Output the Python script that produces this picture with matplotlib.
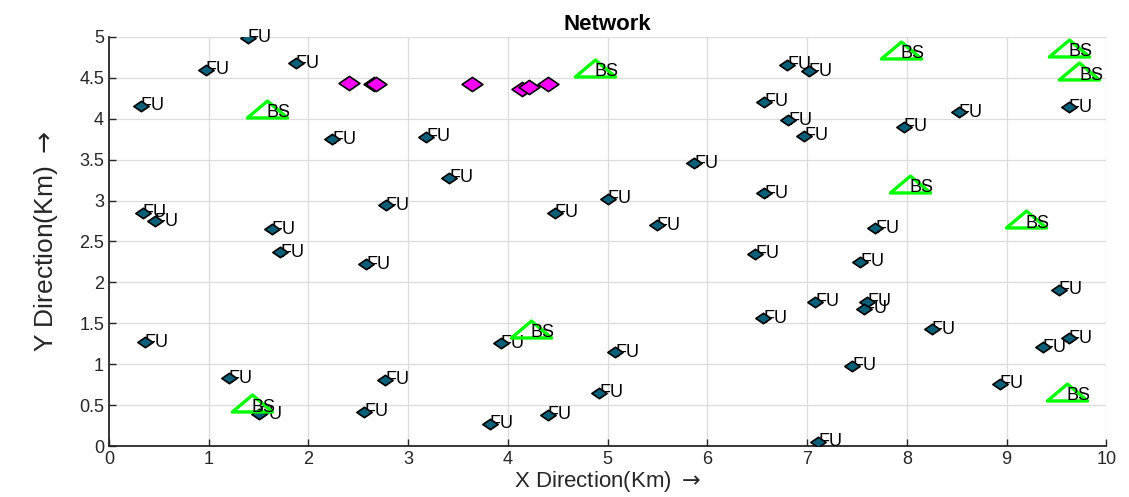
import matplotlib
matplotlib.use("Agg")
import matplotlib.pyplot as plt
from matplotlib.path import Path

# femto users (FU)
fu_x = [1.39, 0.97, 1.875, 0.32, 2.24, 3.18, 3.41, 2.775, 0.34, 0.46,
        1.63, 1.715, 2.58, 0.36, 1.20, 2.77, 1.50, 2.56, 3.93, 5.075,
        4.915, 4.40, 3.82, 6.48, 6.56, 5.87, 5.00, 4.47, 5.49, 6.57,
        6.57, 6.80, 7.015, 6.81, 6.97, 7.97, 8.52, 9.62, 7.68, 7.53,
        9.52, 7.08, 7.60, 7.565, 8.25, 9.62, 9.36, 7.45, 8.93, 7.11]
fu_y = [4.99, 4.60, 4.68, 4.16, 3.75, 3.78, 3.28, 2.94, 2.85, 2.75,
        2.65, 2.37, 2.22, 1.27, 0.83, 0.81, 0.39, 0.42, 1.255, 1.145,
        0.65, 0.38, 0.27, 2.35, 1.56, 3.455, 3.02, 2.85, 2.70, 4.21,
        3.09, 4.66, 4.58, 3.985, 3.79, 3.90, 4.08, 4.14, 2.66, 2.25,
        1.91, 1.765, 1.765, 1.68, 1.43, 1.32, 1.21, 0.98, 0.76, 0.05]

# base stations (BS)
bs_x = [1.58, 4.87, 7.94, 9.62, 9.73, 8.03, 9.19, 4.23, 1.43, 9.60]
bs_y = [4.12, 4.62, 4.84, 4.87, 4.58, 3.20, 2.77, 1.43, 0.52, 0.66]

# magenta users
mu_x = [2.41, 2.66, 2.68, 3.64, 4.14, 4.21, 4.40]
mu_y = [4.44, 4.43, 4.42, 4.43, 4.36, 4.39, 4.43]

xticks = list(range(0, 11))
yticks = [0, 0.5, 1, 1.5, 2, 2.5, 3, 3.5, 4, 4.5, 5]

# squashed marker shapes (original picture is stretched sideways)
wide_diamond = Path([(-1, 0), (0, 0.68), (1, 0), (0, -0.68), (-1, 0)],
                    [Path.MOVETO, Path.LINETO, Path.LINETO, Path.LINETO, Path.CLOSEPOLY])
wide_tri = Path([(-1, -0.42), (0, 0.42), (1, -0.42), (-1, -0.42)],
                [Path.MOVETO, Path.LINETO, Path.LINETO, Path.CLOSEPOLY])

fig = plt.figure(figsize=(11.29, 4.97), dpi=100)
ax = fig.add_axes([0.0965, 0.1026, 0.8835, 0.823])

ax.plot(fu_x, fu_y, linestyle="none", marker=wide_diamond, markersize=11,
        markerfacecolor="#0b5f78", markeredgecolor="black", markeredgewidth=1.2, zorder=4)
for x, y in zip(fu_x, fu_y):
    ax.text(x, y, "FU", fontsize=13, ha="left", va="center", zorder=3,
            family="Liberation Sans")

ax.plot(mu_x, mu_y, linestyle="none", marker=wide_diamond, markersize=15,
        markerfacecolor="magenta", markeredgecolor="black", markeredgewidth=1.2, zorder=4)

ax.plot(bs_x, bs_y, linestyle="none", marker=wide_tri, markersize=29,
        markerfacecolor="none", markeredgecolor="#00ff00", markeredgewidth=2.4, zorder=4)
for x, y in zip(bs_x, bs_y):
    ax.text(x, y - 0.045, "BS", fontsize=13, ha="left", va="center", zorder=5,
            family="Liberation Sans")

ax.set_xlim(0, 10)
ax.set_ylim(0, 5)
ax.set_xticks(xticks)
ax.set_yticks(yticks)
ax.set_yticklabels([f"{v:g}" for v in yticks])
ax.tick_params(direction="in", length=5, width=1, labelsize=13, colors="#262626")
for lab in ax.get_xticklabels() + ax.get_yticklabels():
    lab.set_family("Liberation Sans")
ax.grid(True, color="#dcdcdc", linewidth=0.9)
ax.set_axisbelow(True)
ax.spines["top"].set_visible(False)
ax.spines["right"].set_visible(False)
ax.spines["left"].set_linewidth(1.3)
ax.spines["bottom"].set_linewidth(1.3)
ax.spines["left"].set_color("#262626")
ax.spines["bottom"].set_color("#262626")

ax.set_xlabel(r"X Direction(Km) $\rightarrow$", fontsize=16, color="#262626",
              family="Liberation Sans", labelpad=1)
ax.set_ylabel(r"Y Direction(Km) $\rightarrow$", fontsize=19, color="#262626",
              family="Liberation Sans", labelpad=14)
ax.set_title("Network", fontsize=16, fontweight="bold", family="Liberation Sans", pad=5)

fig.savefig("out.png", dpi=100)
